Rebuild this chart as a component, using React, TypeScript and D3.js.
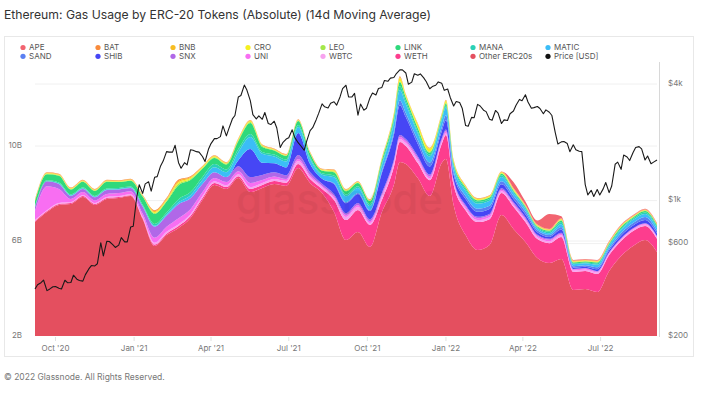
import React, { useEffect, useRef } from "react";
import * as d3 from "d3";

// sample dates (every 14 days, plus two extra around the Nov '21 and Jan '22 peaks)
const dates = [
  "2020-09-07", "2020-09-21", "2020-10-05", "2020-10-19", "2020-11-02", "2020-11-16", "2020-11-30", "2020-12-14", "2020-12-28", "2021-01-11",
  "2021-01-25", "2021-02-08", "2021-02-22", "2021-03-08", "2021-03-22", "2021-04-05", "2021-04-19", "2021-05-03", "2021-05-17", "2021-05-31",
  "2021-06-14", "2021-06-28", "2021-07-12", "2021-07-26", "2021-08-09", "2021-08-23", "2021-09-06", "2021-09-20", "2021-10-04", "2021-10-18",
  "2021-11-01", "2021-11-08", "2021-11-15", "2021-11-29", "2021-12-13", "2021-12-27", "2022-01-01",
  "2022-01-10", "2022-01-24", "2022-02-07", "2022-02-21", "2022-03-07", "2022-03-21", "2022-04-04", "2022-04-18", "2022-05-02", "2022-05-16",
  "2022-05-30", "2022-06-13", "2022-06-27", "2022-07-11", "2022-07-25", "2022-08-08", "2022-08-22", "2022-09-05",
];

// gas used, billions
const otherErc20s = [
  6.80, 7.22, 7.52, 7.56, 7.85, 7.52, 7.77, 7.81, 7.89, 6.93,
  5.79, 6.25, 6.55, 6.97, 7.73, 8.36, 8.19, 8.65, 8.06, 8.23,
  8.40, 8.32, 9.07, 8.44, 8.02, 7.22, 6.04, 6.38, 5.75, 7.22,
  8.36, 9.33, 9.24, 8.65, 7.89, 9.28, 9.45,
  7.52, 6.25, 5.62, 5.83, 7.09, 6.51, 5.96, 5.28, 5.07, 5.24,
  3.94, 3.98, 3.85, 4.74, 5.37, 5.79, 6.04, 5.54,
];
const weth = [
  0.04, 0.04, 0.04, 0.04, 0.04, 0.04, 0.04, 0.04, 0.04, 0.04,
  0.06, 0.06, 0.08, 0.08, 0.08, 0.08, 0.08, 0.08, 0.13, 0.13,
  0.13, 0.13, 0.17, 0.17, 0.17, 0.51, 0.84, 0.93, 0.93, 0.51,
  0.76, 0.84, 0.76, 0.63, 0.67, 0.80, 1.01,
  0.84, 1.05, 1.18, 1.09, 0.93, 0.93, 0.84, 0.80, 0.84, 0.93,
  0.76, 0.76, 0.76, 0.67, 0.63, 0.63, 0.59, 0.55,
];
const wbtc = [
  0.04, 0.04, 0.04, 0.04, 0.04, 0.04, 0.04, 0.04, 0.04, 0.06,
  0.08, 0.08, 0.08, 0.08, 0.08, 0.08, 0.08, 0.08, 0.08, 0.08,
  0.08, 0.08, 0.13, 0.08, 0.08, 0.08, 0.13, 0.13, 0.08, 0.13,
  0.13, 0.13, 0.13, 0.13, 0.08, 0.08, 0.08,
  0.08, 0.08, 0.08, 0.08, 0.08, 0.08, 0.08, 0.08, 0.08, 0.08,
  0.06, 0.06, 0.06, 0.06, 0.06, 0.06, 0.06, 0.06,
];
const uni = [
  0.38, 1.01, 0.59, 0.13, 0.13, 0.11, 0.13, 0.13, 0.13, 0.13,
  0.21, 0.21, 0.25, 0.21, 0.17, 0.13, 0.13, 0.13, 0.17, 0.13,
  0.11, 0.08, 0.08, 0.08, 0.06, 0.08, 0.08, 0.08, 0.08, 0.08,
  0.08, 0.08, 0.08, 0.08, 0.08, 0.08, 0.08,
  0.08, 0.08, 0.08, 0.08, 0.06, 0.06, 0.06, 0.06, 0.06, 0.06,
  0.04, 0.04, 0.04, 0.04, 0.04, 0.04, 0.04, 0.04,
];
const snx = [
  0.17, 0.21, 0.21, 0.13, 0.13, 0.13, 0.17, 0.15, 0.13, 0.29,
  0.46, 0.46, 0.59, 0.46, 0.34, 0.25, 0.21, 0.21, 0.25, 0.21,
  0.17, 0.15, 0.17, 0.13, 0.08, 0.08, 0.08, 0.08, 0.08, 0.08,
  0.08, 0.08, 0.08, 0.08, 0.08, 0.08, 0.08,
  0.06, 0.06, 0.06, 0.06, 0.06, 0.06, 0.06, 0.04, 0.04, 0.04,
  0.02, 0.02, 0.02, 0.02, 0.02, 0.02, 0.02, 0.02,
];
const shib = [
  0, 0, 0, 0, 0, 0, 0, 0, 0, 0,
  0, 0, 0, 0, 0, 0, 0, 0.25, 1.18, 0.51,
  0.38, 0.34, 0.93, 0.34, 0.21, 0.42, 0.42, 0.38, 0.34, 0.84,
  1.05, 1.26, 0.93, 0.51, 0.34, 0.29, 0.38,
  0.21, 0.25, 0.21, 0.21, 0.17, 0.13, 0.13, 0.11, 0.08, 0.13,
  0.06, 0.06, 0.08, 0.08, 0.11, 0.11, 0.13, 0.11,
];
const sand = [
  0, 0, 0, 0, 0, 0, 0, 0, 0, 0,
  0, 0, 0, 0, 0, 0, 0, 0, 0, 0,
  0, 0, 0, 0, 0, 0.04, 0.04, 0.04, 0.04, 0.08,
  0.13, 0.21, 0.17, 0.17, 0.17, 0.17, 0.21,
  0.13, 0.13, 0.13, 0.13, 0.13, 0.13, 0.11, 0.08, 0.08, 0.11,
  0.06, 0.06, 0.08, 0.08, 0.11, 0.11, 0.13, 0.11,
];
const matic = [
  0, 0, 0.02, 0.02, 0.02, 0.02, 0.02, 0.02, 0.02, 0.02,
  0.04, 0.06, 0.08, 0.13, 0.17, 0.21, 0.21, 0.34, 0.51, 0.38,
  0.29, 0.25, 0.25, 0.21, 0.17, 0.25, 0.25, 0.21, 0.17, 0.25,
  0.38, 0.42, 0.38, 0.29, 0.25, 0.29, 0.34,
  0.21, 0.21, 0.21, 0.21, 0.17, 0.13, 0.11, 0.08, 0.08, 0.13,
  0.08, 0.08, 0.11, 0.11, 0.13, 0.13, 0.13, 0.13,
];
const mana = [
  0.04, 0.04, 0.04, 0.04, 0.04, 0.04, 0.04, 0.04, 0.04, 0.06,
  0.08, 0.08, 0.13, 0.13, 0.13, 0.13, 0.11, 0.13, 0.13, 0.08,
  0.08, 0.08, 0.08, 0.08, 0.06, 0.08, 0.08, 0.08, 0.08, 0.08,
  0.13, 0.17, 0.13, 0.08, 0.08, 0.08, 0.08,
  0.08, 0.08, 0.08, 0.08, 0.08, 0.06, 0.06, 0.04, 0.06, 0.08,
  0.04, 0.04, 0.06, 0.06, 0.06, 0.06, 0.06, 0.06,
];
const link = [
  0.21, 0.25, 0.29, 0.21, 0.25, 0.21, 0.29, 0.25, 0.25, 0.34,
  0.42, 0.46, 0.59, 0.51, 0.34, 0.25, 0.21, 0.34, 0.46, 0.21,
  0.17, 0.15, 0.17, 0.15, 0.11, 0.13, 0.13, 0.13, 0.13, 0.13,
  0.13, 0.17, 0.13, 0.13, 0.08, 0.08, 0.08,
  0.08, 0.06, 0.06, 0.06, 0.06, 0.04, 0.04, 0.04, 0.04, 0.06,
  0.04, 0.04, 0.04, 0.04, 0.06, 0.04, 0.06, 0.04,
];
const leo = [
  0.02, 0.02, 0.02, 0.02, 0.02, 0.02, 0.02, 0.02, 0.02, 0.02,
  0.04, 0.04, 0.06, 0.04, 0.04, 0.04, 0.04, 0.04, 0.04, 0.04,
  0.02, 0.02, 0.02, 0.02, 0.02, 0.04, 0.04, 0.02, 0.02, 0.04,
  0.04, 0.04, 0.04, 0.04, 0.04, 0.04, 0.04,
  0.02, 0.02, 0.02, 0.02, 0.02, 0.02, 0.02, 0.02, 0.02, 0.02,
  0.02, 0.02, 0.02, 0.02, 0.02, 0.02, 0.02, 0.02,
];
const cro = [
  0.02, 0.02, 0.02, 0.02, 0.02, 0.02, 0.02, 0.02, 0.02, 0.02,
  0.04, 0.04, 0.06, 0.04, 0.04, 0.04, 0.02, 0.04, 0.04, 0.02,
  0.02, 0.02, 0.02, 0.02, 0.02, 0.04, 0.02, 0.02, 0.02, 0.04,
  0.08, 0.13, 0.08, 0.13, 0.13, 0.06, 0.08,
  0.08, 0.04, 0.04, 0.04, 0.04, 0.04, 0.02, 0.02, 0.02, 0.04,
  0.02, 0.02, 0.02, 0.02, 0.02, 0.02, 0.02, 0.02,
];
const bnb = [
  0.02, 0.02, 0.02, 0.02, 0.02, 0.02, 0.02, 0.02, 0.02, 0.02,
  0.04, 0.04, 0.06, 0.04, 0.02, 0.02, 0.02, 0.02, 0.02, 0.02,
  0.02, 0.02, 0.02, 0.02, 0.02, 0.02, 0.02, 0.02, 0.02, 0.02,
  0.02, 0.04, 0.02, 0.02, 0.02, 0.02, 0.02,
  0.02, 0.02, 0.02, 0.02, 0.02, 0.02, 0.02, 0.02, 0.02, 0.02,
  0.02, 0.02, 0.02, 0.02, 0.02, 0.02, 0.02, 0.02,
];
const bat = [
  0.02, 0.02, 0.02, 0.02, 0.02, 0.02, 0.02, 0.02, 0.02, 0.02,
  0.04, 0.04, 0.06, 0.04, 0.02, 0.02, 0.02, 0.02, 0.02, 0.02,
  0.02, 0.02, 0.02, 0.02, 0.02, 0.02, 0.02, 0.02, 0.02, 0.02,
  0.02, 0.04, 0.02, 0.02, 0.02, 0.02, 0.02,
  0.02, 0.02, 0.02, 0.02, 0.02, 0.02, 0.02, 0.02, 0.02, 0.02,
  0.02, 0.02, 0.02, 0.02, 0.02, 0.02, 0.02, 0.02,
];
const ape = [
  0, 0, 0, 0, 0, 0, 0, 0, 0, 0,
  0, 0, 0, 0, 0, 0, 0, 0, 0, 0,
  0, 0, 0, 0, 0, 0, 0, 0, 0, 0,
  0, 0, 0, 0, 0, 0, 0,
  0, 0, 0, 0, 0, 0.25, 0.13, 0.17, 0.63, 0.08,
  0.02, 0.02, 0.02, 0.02, 0.02, 0.02, 0.02, 0.02,
];

// ETH price [USD], Monday and Thursday of each week from 2020-09-07
const priceStart = "2020-09-07";
const priceUsd = [
  350, 368, 377, 389, 343, 349, 359, 360,
  353, 350, 388, 377, 378, 412, 393, 387,
  384, 415, 444, 462, 460, 472, 606, 518, 616, 615,
  592, 573, 589, 644, 612, 612, 731, 737,
  1040, 1208, 1090, 1220, 1250, 1120, 1320, 1330,
  1510, 1600, 1790, 1780, 1780, 1930, 1570, 1470,
  1570, 1530, 1830, 1820, 1790, 1780, 1690, 1590, 1840, 1970,
  2090, 2090, 2140, 2430, 2160, 2360, 2640, 2750,
  3430, 3490, 3950, 3720, 3280, 2780, 2640, 2740, 2630, 2850,
  2500, 2470, 2570, 2370, 1880, 1990, 2080, 2110,
  2320, 2120, 1990, 1920, 1820, 2030, 2300, 2380,
  2610, 2820, 3160, 3050, 3010, 3180, 3240, 3110, 3430, 3790,
  3940, 3430, 3430, 3580, 2760, 3150, 2930, 3000,
  3390, 3590, 3510, 3790, 3840, 4170, 4130, 4290,
  4320, 4530, 4730, 4730, 4560, 3990, 4090, 4520, 4440, 4510,
  4300, 4110, 3780, 3880, 3940, 4100, 4040, 3710,
  3770, 3410, 3080, 3250, 3210, 3000, 2440, 2420, 2690, 2680,
  3140, 3080, 2930, 2880, 2630, 2600, 2920, 2830,
  2500, 2610, 2590, 2810, 2900, 3110, 3330, 3280,
  3520, 3230, 3000, 3020, 3060, 2990, 2810, 2940,
  2860, 2750, 2240, 1960, 2010, 2020, 1970, 1790, 1940, 1830,
  1800, 1790, 1210, 1070, 1130, 1050, 1140, 1070,
  1150, 1240, 1100, 1190, 1540, 1580, 1450, 1720,
  1680, 1610, 1770, 1880, 1900, 1850, 1620, 1700, 1550, 1580,
  1620,
];

const series = [
  { key: "APE", color: "#f26470", values: ape },
  { key: "BAT", color: "#f98b3c", values: bat },
  { key: "BNB", color: "#f7bd22", values: bnb },
  { key: "CRO", color: "#f5f020", values: cro },
  { key: "LEO", color: "#a3e84a", values: leo },
  { key: "LINK", color: "#2fd97c", values: link },
  { key: "MANA", color: "#2ad1b6", values: mana },
  { key: "MATIC", color: "#3bbdf7", values: matic },
  { key: "SAND", color: "#5b80f2", values: sand },
  { key: "SHIB", color: "#4646f5", values: shib },
  { key: "SNX", color: "#b068e8", values: snx },
  { key: "UNI", color: "#f86ef2", values: uni },
  { key: "WBTC", color: "#f7a3ef", values: wbtc },
  { key: "WETH", color: "#fd3d8e", values: weth },
  { key: "Other ERC20s", color: "#e44f5f", values: otherErc20s },
];

const leftTicks = [2, 6, 10];
const rightTicks = [200, 600, 1000, 4000];
const rightLabels = ["$200", "$600", "$1k", "$4k"];

const FONT = "Inter, 'Noto Sans', sans-serif";

export default function App() {
  const ref = useRef<SVGSVGElement>(null);

  useEffect(() => {
    document.body.style.margin = "0";
    const svg = d3.select(ref.current);
    svg.selectAll("*").remove();

    const parse = d3.utcParse("%Y-%m-%d");
    const plot = { left: 35, right: 657, top: 62, bottom: 336 };

    const x = d3
      .scaleUtc()
      .domain([parse(dates[0])!, parse(dates[dates.length - 1])!])
      .range([plot.left, plot.right]);
    const y = d3.scaleLinear().domain([2, 10]).range([plot.bottom, 146]);
    const yClamp = (v: number) => Math.min(plot.bottom, y(v));
    const yPrice = d3.scaleLog().domain([200, 4000]).range([plot.bottom, 84]);

    // title
    svg
      .append("text")
      .attr("x", 4)
      .attr("y", 18.5)
      .attr("font-family", FONT)
      .attr("font-size", 12.2)
      .attr("fill", "#333")
      .text("Ethereum: Gas Usage by ERC-20 Tokens (Absolute) (14d Moving Average)");

    // card
    svg
      .append("rect")
      .attr("x", 4.5)
      .attr("y", 36.5)
      .attr("width", 689)
      .attr("height", 320)
      .attr("fill", "none")
      .attr("stroke", "#e8e8e8");

    // grid
    const grid = svg.append("g");
    leftTicks.slice(1).forEach((t) => {
      grid
        .append("line")
        .attr("x1", plot.left)
        .attr("x2", plot.right)
        .attr("y1", y(t))
        .attr("y2", y(t))
        .attr("stroke", "#f0f0f0");
    });
    rightTicks.slice(1).forEach((t) => {
      grid
        .append("line")
        .attr("x1", plot.left)
        .attr("x2", plot.right)
        .attr("y1", yPrice(t))
        .attr("y2", yPrice(t))
        .attr("stroke", "#f0f0f0");
    });

    // stacked areas
    const rows = dates.map((d, i) => {
      const r: any = { date: parse(d) };
      series.forEach((s) => (r[s.key] = s.values[i]));
      return r;
    });
    const keys = series.map((s) => s.key).reverse();
    const stacked = d3.stack().keys(keys)(rows);
    const color = new Map(series.map((s) => [s.key, s.color]));

    const area = d3
      .area<any>()
      .x((d) => x(d.data.date))
      .y0((d) => yClamp(d[0]))
      .y1((d) => yClamp(d[1]))
      .curve(d3.curveMonotoneX);

    svg
      .append("g")
      .selectAll("path")
      .data(stacked)
      .join("path")
      .attr("fill", (d) => color.get(d.key)!)
      .attr("d", area);

    // watermark
    svg
      .append("text")
      .attr("x", 236)
      .attr("y", 214)
      .attr("font-family", FONT)
      .attr("font-size", 42)
      .attr("font-weight", 500)
      .attr("fill", "#000")
      .attr("opacity", 0.04)
      .text("glassnode");

    // price line
    const start = parse(priceStart)!;
    const priceRows = priceUsd.map((p, i) => ({
      date: d3.utcDay.offset(start, Math.floor(i / 2) * 7 + (i % 2) * 3),
      p,
    }));
    const line = d3
      .line<any>()
      .x((d) => x(d.date))
      .y((d) => yPrice(d.p));
    svg
      .append("path")
      .datum(priceRows)
      .attr("fill", "none")
      .attr("stroke", "#1a1a1a")
      .attr("stroke-width", 1.1)
      .attr("stroke-linejoin", "round")
      .attr("d", line);

    // right axis line
    svg
      .append("line")
      .attr("x1", 659.5)
      .attr("x2", 659.5)
      .attr("y1", plot.top)
      .attr("y2", plot.bottom + 1)
      .attr("stroke", "#d8d8d8");

    // left labels
    svg
      .append("g")
      .selectAll("text")
      .data(leftTicks)
      .join("text")
      .attr("x", 22)
      .attr("y", (d) => y(d) - 1)
      .attr("dy", "0.35em")
      .attr("text-anchor", "end")
      .attr("font-family", FONT)
      .attr("font-size", 8)
      .attr("fill", "#777")
      .text((d) => d + "B");

    // right labels
    svg
      .append("g")
      .selectAll("text")
      .data(rightTicks)
      .join("text")
      .attr("x", 668)
      .attr("y", (d) => yPrice(d) - 1)
      .attr("dy", "0.35em")
      .attr("font-family", FONT)
      .attr("font-size", 8)
      .attr("fill", "#777")
      .text((d, i) => rightLabels[i]);

    // x axis
    const xTicks = x.ticks(d3.utcMonth.every(3)!);
    const fmt = d3.utcFormat("%b '%y");
    const xa = svg.append("g");
    xa.selectAll("line")
      .data(xTicks)
      .join("line")
      .attr("x1", (d) => x(d))
      .attr("x2", (d) => x(d))
      .attr("y1", plot.bottom + 1)
      .attr("y2", plot.bottom + 5)
      .attr("stroke", "#e0e0e0");
    xa.selectAll("text")
      .data(xTicks)
      .join("text")
      .attr("x", (d) => x(d))
      .attr("y", 351)
      .attr("text-anchor", "middle")
      .attr("font-family", FONT)
      .attr("font-size", 8)
      .attr("fill", "#777")
      .text((d) => fmt(d));

    // legend
    const items = [...series.map((s) => ({ key: s.key, color: s.color })), { key: "Price [USD]", color: "#111" }];
    const lg = svg
      .append("g")
      .selectAll("g")
      .data(items)
      .join("g")
      .attr("transform", (d, i) => `translate(${23 + (i % 8) * 75},${47.5 + Math.floor(i / 8) * 8.8})`);
    lg.append("circle").attr("r", 2.6).attr("fill", (d) => d.color);
    lg.append("text")
      .attr("x", 6)
      .attr("dy", "0.35em")
      .attr("font-family", FONT)
      .attr("font-size", 8)
      .attr("fill", "#555")
      .text((d) => d.key);

    // footer
    svg
      .append("text")
      .attr("x", 4)
      .attr("y", 380)
      .attr("font-family", FONT)
      .attr("font-size", 8.5)
      .attr("fill", "#777")
      .text("© 2022 Glassnode. All Rights Reserved.");
  }, []);

  return <svg ref={ref} width={704} height={397} style={{ display: "block", background: "#fff" }} />;
}
